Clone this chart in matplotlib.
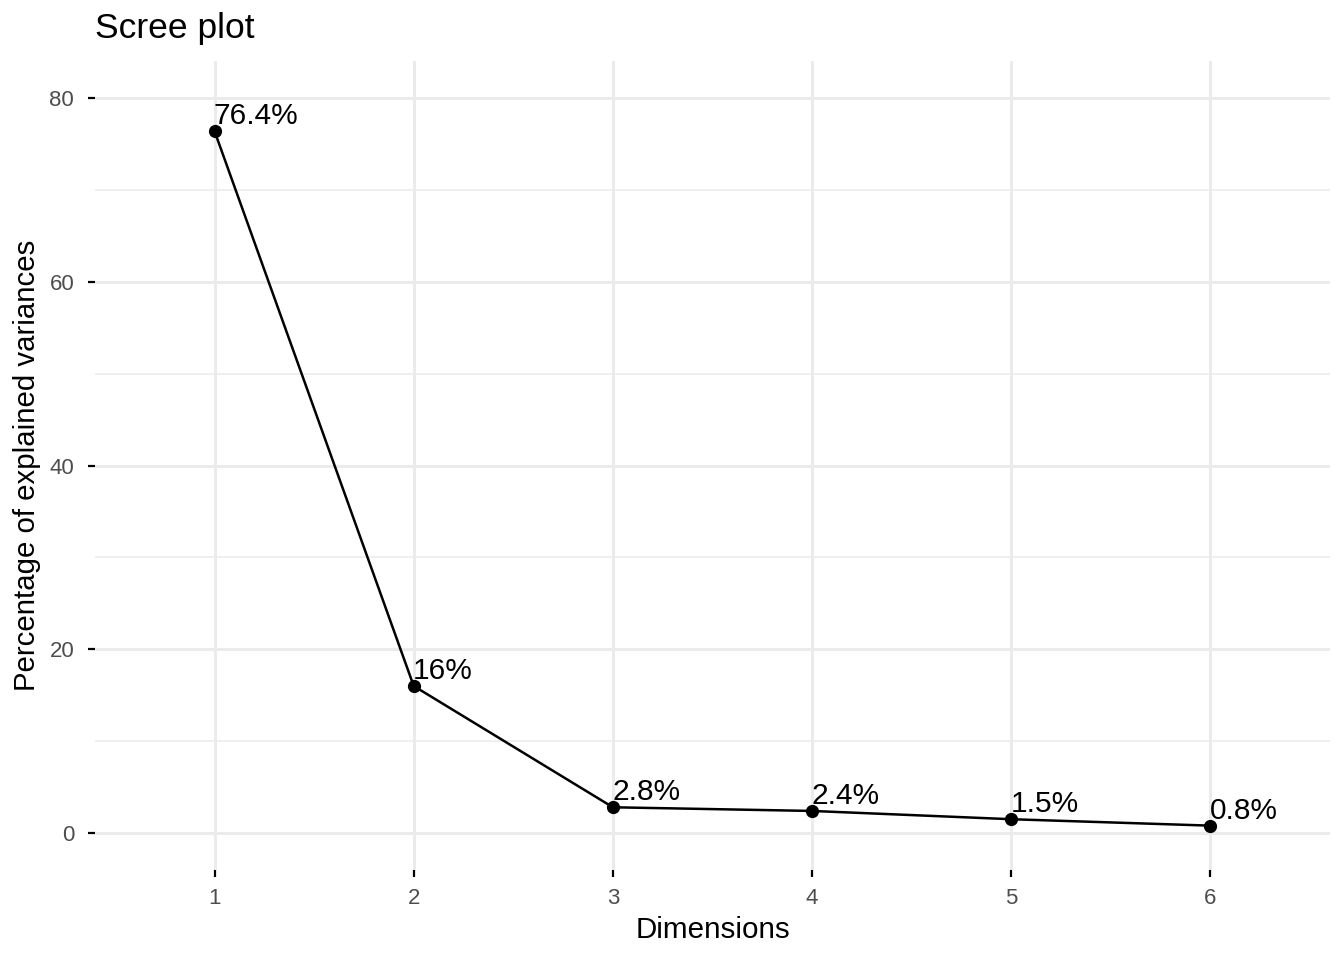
import matplotlib
matplotlib.use("Agg")
import matplotlib.pyplot as plt
from matplotlib.ticker import MultipleLocator

plt.rcParams['font.family'] = ['Liberation Sans', 'DejaVu Sans']

dims = [1, 2, 3, 4, 5, 6]
variances = [76.4, 16.0, 2.8, 2.4, 1.5, 0.8]
labels = ["76.4%", "16%", "2.8%", "2.4%", "1.5%", "0.8%"]
yticks = [0, 20, 40, 60, 80]

fig = plt.figure(figsize=(13.44, 9.6), dpi=100)
ax = fig.add_axes([95/1344, 1-869.75/960, (1330-95)/1344, (869.75-61.25)/960])

ax.set_xlim(0.4, 6.6)
ax.set_ylim(-4, 84)
ax.set_xticks(dims)
ax.set_xticklabels([str(d) for d in dims])
ax.set_yticks(yticks)
ax.yaxis.set_minor_locator(MultipleLocator(10))

ax.grid(which='major', color='#EBEBEB', linewidth=2.1, zorder=0)
ax.grid(which='minor', axis='y', color='#EBEBEB', linewidth=1.1, zorder=0)
ax.set_axisbelow(True)
for s in ax.spines.values():
    s.set_visible(False)

ax.tick_params(axis='both', which='major', length=5, width=1.6, color='black',
               labelsize=16, labelcolor='#4D4D4D')
ax.tick_params(axis='y', pad=10)
ax.tick_params(axis='x', pad=8)
ax.tick_params(which='minor', length=0)

ax.plot(dims, variances, color='black', linewidth=1.8, zorder=3)
ax.plot(dims, variances, 'o', color='black', markersize=8.5, zorder=4)
for d, v, l in zip(dims, variances, labels):
    ax.annotate(l, (d, v), xytext=(-0.5, 5), textcoords='offset points',
                ha='left', va='baseline', fontsize=21.5, color='black')

ax.set_xlabel("Dimensions", fontsize=21.3, labelpad=5)
ax.set_ylabel("Percentage of explained variances", fontsize=21.2, labelpad=6)
fig.text(95/1344, 1-38/960, "Scree plot", fontsize=25.5, ha='left', va='baseline')

fig.savefig("out.png", dpi=100)
